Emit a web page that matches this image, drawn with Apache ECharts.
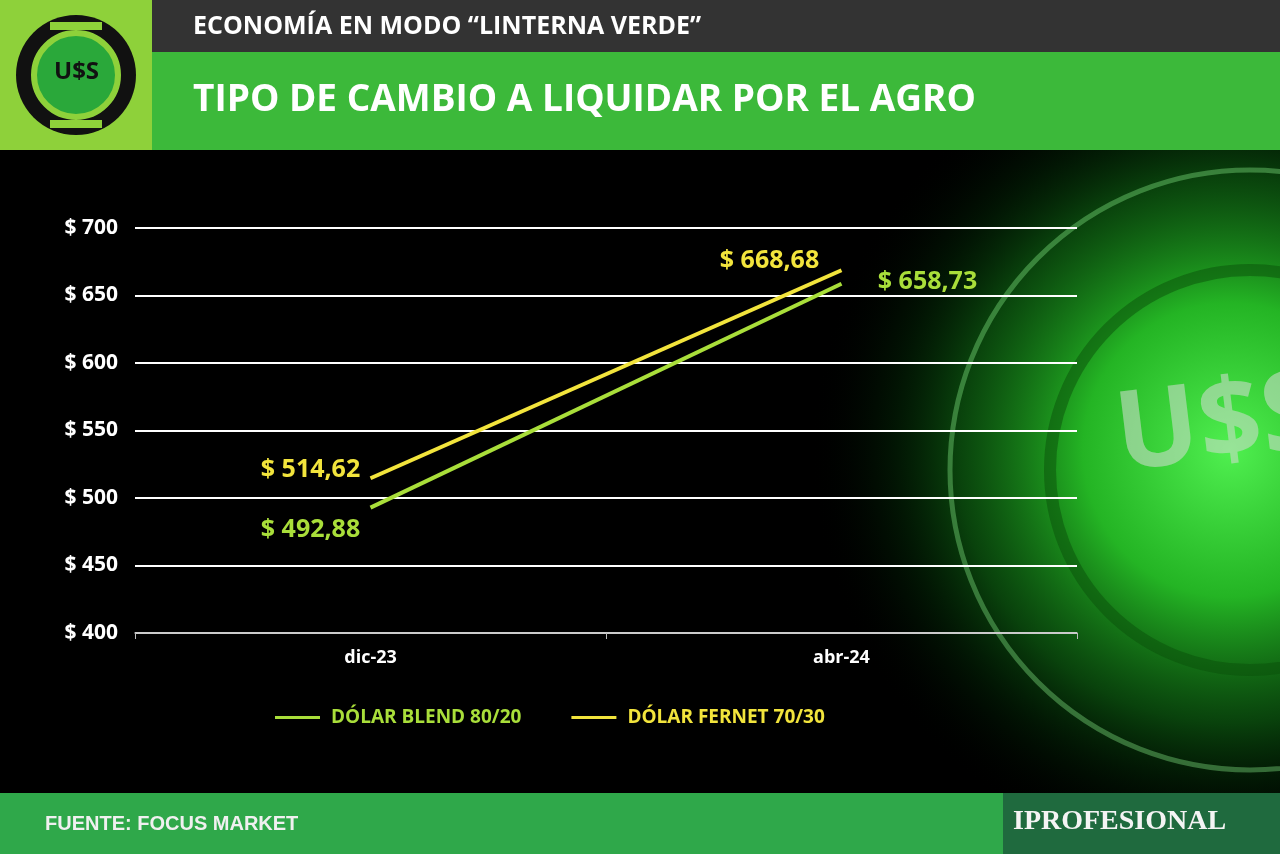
<!DOCTYPE html>
<html lang="es">
<head>
<meta charset="UTF-8">
<title>Tipo de cambio a liquidar por el agro</title>
<style>
  html, body { margin: 0; padding: 0; background: #000; }
  #chart { width: 1280px; height: 854px; }
</style>
</head>
<body>
<div id="chart"></div>
<script src="https://cdn.jsdelivr.net/npm/echarts@6/dist/echarts.min.js"></script>
<script>
var categories = ['dic-23', 'abr-24']
var blend = [492.88, 658.73]
var fernet = [514.62, 668.68]
var seriesNames = ['DÓLAR BLEND 80/20', 'DÓLAR FERNET 70/30']

var green = '#a9de3a'
var yellow = '#f2e43c'
var font = 'Open Sans'

// label offsets from each point, [dic, abr]
var blendOffsets = [[-60, 22], [86, -2]]
var fernetOffsets = [[-60, -8], [-72, -9]]

function money(v) {
    return '$ ' + v.toFixed(2).replace('.', ',')
}

function withLabels(values, offsets, color) {
    return values.map(function (v, i) {
        return { value: v, label: { show: true, position: 'inside', offset: offsets[i],
            fontSize: 25, fontWeight: 'bold', color: color, formatter: money(v) } }
    })
}

var myChart = echarts.init(document.getElementById('chart'))

var option = {
    backgroundColor: '#000',
    textStyle: { fontFamily: font },
    graphic: [
        // right glow
        { type: 'circle', z: 0, shape: { cx: 1230, cy: 450, r: 420 },
          style: { fill: new echarts.graphic.RadialGradient(0.5, 0.5, 0.5, [
              { offset: 0, color: 'rgba(80,240,80,1)' },
              { offset: 0.35, color: 'rgba(40,200,40,0.9)' },
              { offset: 0.65, color: 'rgba(15,110,20,0.6)' },
              { offset: 0.8, color: 'rgba(5,60,10,0.35)' },
              { offset: 1, color: 'rgba(0,0,0,0)' }]) } },
        { type: 'circle', z: 0, shape: { cx: 1250, cy: 470, r: 300 },
          style: { fill: 'none', stroke: 'rgba(150,255,150,0.35)', lineWidth: 5 } },
        { type: 'circle', z: 0, shape: { cx: 1250, cy: 470, r: 200 },
          style: { fill: 'none', stroke: 'rgba(10,80,10,0.5)', lineWidth: 12 } },
        { type: 'text', z: 1, left: 1110, top: 360, rotation: 0.12,
          style: { text: 'U$S', fill: 'rgba(200,220,200,0.6)', font: 'bold 110px "Open Sans"' } },
        // header bars
        { type: 'rect', z: 2, shape: { x: 0, y: 0, width: 1280, height: 52 }, style: { fill: '#333333' } },
        { type: 'rect', z: 2, shape: { x: 0, y: 52, width: 1280, height: 98 }, style: { fill: '#3cb93a' } },
        { type: 'rect', z: 3, shape: { x: 0, y: 0, width: 152, height: 150 }, style: { fill: '#8ed13a' } },
        { type: 'circle', z: 4, shape: { cx: 76, cy: 75, r: 60 }, style: { fill: '#111' } },
        { type: 'circle', z: 4, shape: { cx: 76, cy: 75, r: 42 }, style: { fill: '#2aa83a', stroke: '#8ed13a', lineWidth: 6 } },
        { type: 'rect', z: 4, shape: { x: 50, y: 22, width: 52, height: 8 }, style: { fill: '#8ed13a' } },
        { type: 'rect', z: 4, shape: { x: 50, y: 120, width: 52, height: 8 }, style: { fill: '#8ed13a' } },
        { type: 'text', z: 5, left: 54, top: 60,
          style: { text: 'U$S', fill: '#111', font: 'bold 24px "Open Sans"' } },
        { type: 'text', z: 5, left: 193, top: 14,
          style: { text: 'ECONOMÍA EN MODO “LINTERNA VERDE”', fill: '#fff', font: 'bold 25px "Open Sans"' } },
        { type: 'text', z: 5, left: 193, top: 82,
          style: { text: 'TIPO DE CAMBIO A LIQUIDAR POR EL AGRO', fill: '#fff', font: 'bold 37px "Open Sans"' } },
        // footer
        { type: 'rect', z: 2, shape: { x: 0, y: 793, width: 1280, height: 61 }, style: { fill: '#2fa84a' } },
        { type: 'rect', z: 3, shape: { x: 1003, y: 793, width: 277, height: 61 }, style: { fill: '#1f6a3e' } },
        { type: 'text', z: 5, left: 45, top: 814,
          style: { text: 'FUENTE: FOCUS MARKET', fill: '#f0f0f0', font: 'bold 20px "Liberation Sans"' } },
        { type: 'text', z: 5, left: 1013, top: 808,
          style: { text: 'IPROFESIONAL', fill: '#f4f4f4', font: 'bold 28px "Liberation Serif"' } }
    ],
    legend: {
        left: 270, top: 703, itemGap: 50, itemWidth: 45, itemHeight: 3,
        icon: 'rect',
        textStyle: { fontSize: 19, fontWeight: 'bold', fontFamily: font, padding: [0, 0, 0, 6] },
        data: [
            { name: seriesNames[0], textStyle: { color: green } },
            { name: seriesNames[1], textStyle: { color: yellow } }
        ]
    },
    grid: { left: 135, right: 203, top: 228, bottom: 221, containLabel: false },
    xAxis: {
        type: 'category', data: categories,
        axisLine: { lineStyle: { color: '#bbb', width: 1.5 } },
        axisTick: { show: true, length: 6, lineStyle: { color: '#bbb' } },
        axisLabel: { color: '#fff', fontSize: 18, fontWeight: 'bold', margin: 16 }
    },
    yAxis: {
        type: 'value', min: 400, max: 700, interval: 50,
        axisLabel: { color: '#fff', fontSize: 21, fontWeight: 'bold', margin: 17,
            formatter: function (v) { return '$ ' + v } },
        splitLine: { lineStyle: { color: '#fff', width: 2 } },
        axisLine: { show: false }, axisTick: { show: false }
    },
    series: [
        { name: seriesNames[0], type: 'line', data: withLabels(blend, blendOffsets, green),
          symbol: 'circle', symbolSize: 0.1, showSymbol: true, z: 10,
          lineStyle: { color: green, width: 4 }, itemStyle: { color: green } },
        { name: seriesNames[1], type: 'line', data: withLabels(fernet, fernetOffsets, yellow),
          symbol: 'circle', symbolSize: 0.1, showSymbol: true, z: 10,
          lineStyle: { color: yellow, width: 4 }, itemStyle: { color: yellow } }
    ]
}
myChart.setOption(option)
</script>
</body>
</html>
